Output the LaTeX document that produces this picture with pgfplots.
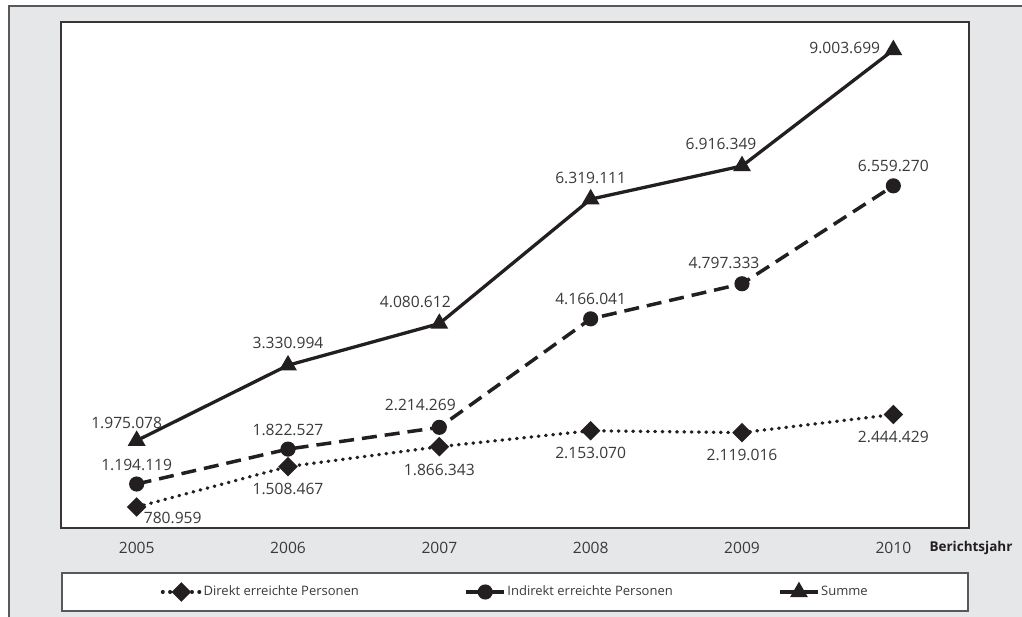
\documentclass[border=0pt]{standalone}
\usepackage{fontspec}
\setmainfont{Open Sans}
\usepackage{pgfplots}
\pgfplotsset{compat=1.18}

\definecolor{bggray}{HTML}{E6E7E8}
\definecolor{framegray}{HTML}{58595B}
\definecolor{ink}{HTML}{231F20}
\definecolor{txt}{HTML}{3A3A3A}
\tikzset{lbl/.style={text=txt, inner sep=0pt, anchor=center}}

\begin{document}
\fontsize{15.6bp}{18bp}\selectfont
\begin{tikzpicture}[x=1bp,y=1bp]
\useasboundingbox (0,0) rectangle (1022,617);
% grey page with frame on the left and top
\fill[bggray] (9,0) rectangle (1022,611);
\draw[framegray, line width=2bp] (9,0) -- (9,611) -- (1022,611);
% legend box
\draw[framegray, line width=1.5bp, fill=white] (62,6) rectangle (968,44);

\begin{axis}[
  at={(61bp,89bp)}, anchor=south west,
  width=908bp, height=506bp, scale only axis,
  xmin=-0.5, xmax=5.5, ymin=403000, ymax=9507000,
  axis background/.style={fill=white},
  axis line style={draw=ink!90, line width=1.5bp},
  ytick=\empty,
  xtick={0,1,2,3,4,5},
  xticklabels={2005,2006,2007,2008,2009,2010},
  major tick length=0pt,
  xticklabel style={anchor=center, yshift=-20bp, text=txt},
  clip=false,
  legend columns=3,
  legend style={at={(0.5,-0.1265)}, anchor=center, draw=none, fill=none,
    text=txt, font=\fontsize{13bp}{15bp}\selectfont,
    /tikz/every even column/.append style={column sep=104bp},
    nodes={inner xsep=1.5bp}},
  legend image code/.code={\draw[mark repeat=2,mark phase=2,#1]
    plot coordinates {(0bp,0bp) (19bp,0bp) (38bp,0bp)};},
]
% Direkt erreichte Personen
\addplot[ink, line width=3.4bp, line cap=round, dash pattern=on 0.6bp off 6.7bp,
  mark=square*, mark size=5.2bp, mark options={solid, rotate=45, fill=ink}]
  coordinates {(0,780959) (1,1508467) (2,1866343) (3,2153070) (4,2119016) (5,2444429)};
\addlegendentry{Direkt erreichte Personen}
% Indirekt erreichte Personen
\addplot[ink, line width=3.5bp, dash pattern=on 15bp off 8bp,
  mark=*, mark size=5.8bp, mark options={solid, fill=ink}]
  coordinates {(0,1194119) (1,1822527) (2,2214269) (3,4166041) (4,4797333) (5,6559270)};
\addlegendentry{Indirekt erreichte Personen}
% Summe
\addplot[ink, line width=3.3bp, solid,
  mark=triangle*, mark size=7bp, mark options={solid, fill=ink}]
  coordinates {(0,1975078) (1,3330994) (2,4080612) (3,6319111) (4,6916349) (5,9003699)};
\addlegendentry{Summe}

% value labels, Summe
\node[lbl, xshift=-10bp, yshift=18bp] at (axis cs:0,1975078) {1.975.078};
\node[lbl, yshift=22bp] at (axis cs:1,3330994) {3.330.994};
\node[lbl, xshift=-24bp, yshift=22bp] at (axis cs:2,4080612) {4.080.612};
\node[lbl, yshift=21bp] at (axis cs:3,6319111) {6.319.111};
\node[lbl, xshift=-21bp, yshift=22bp] at (axis cs:4,6916349) {6.916.349};
\node[lbl, anchor=east, xshift=-13bp, yshift=2bp] at (axis cs:5,9003699) {9.003.699};
% value labels, Indirekt
\node[lbl, yshift=19bp] at (axis cs:0,1194119) {1.194.119};
\node[lbl, yshift=19bp] at (axis cs:1,1822527) {1.822.527};
\node[lbl, xshift=-19bp, yshift=22bp] at (axis cs:2,2214269) {2.214.269};
\node[lbl, yshift=20bp] at (axis cs:3,4166041) {4.166.041};
\node[lbl, xshift=-18bp, yshift=21bp] at (axis cs:4,4797333) {4.797.333};
\node[lbl, yshift=20bp] at (axis cs:5,6559270) {6.559.270};
% value labels, Direkt
\node[lbl, anchor=west, xshift=7bp, yshift=-11bp] at (axis cs:0,780959) {780.959};
\node[lbl, yshift=-22bp] at (axis cs:1,1508467) {1.508.467};
\node[lbl, yshift=-23bp] at (axis cs:2,1866343) {1.866.343};
\node[lbl, yshift=-22bp] at (axis cs:3,2153070) {2.153.070};
\node[lbl, yshift=-22bp] at (axis cs:4,2119016) {2.119.016};
\node[lbl, yshift=-22bp] at (axis cs:5,2444429) {2.444.429};
\end{axis}

\node[font=\fontsize{13.5bp}{16bp}\selectfont\bfseries, text=ink, anchor=center] at (971,69) {Berichtsjahr};
\end{tikzpicture}
\end{document}
